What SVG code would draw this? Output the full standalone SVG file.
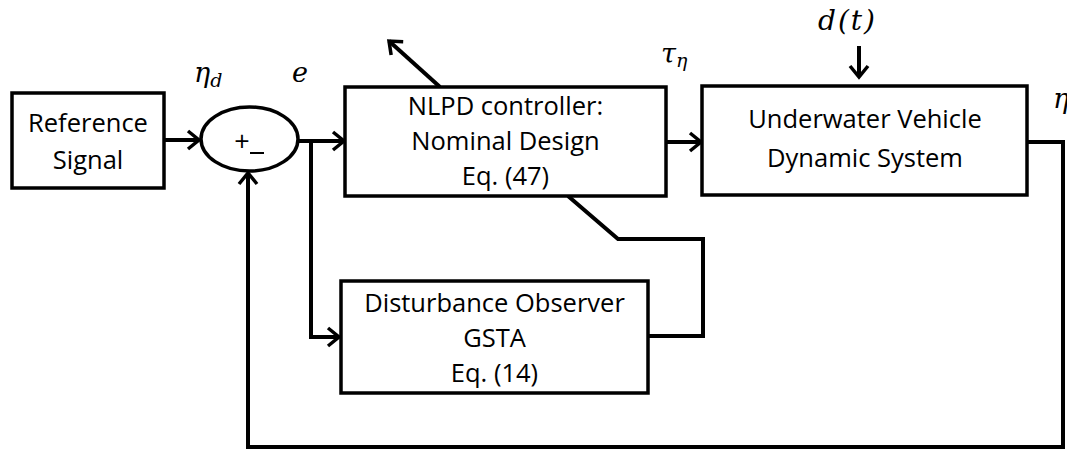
<svg xmlns="http://www.w3.org/2000/svg" width="1067" height="449" viewBox="0 0 1067 449">
<style>
.box{fill:#fff;stroke:#000;stroke-width:3.5}
.lbl{font-family:"Open Sans","Liberation Sans",sans-serif;font-size:25.5px;fill:#000;text-anchor:middle}
.math{font-family:"DejaVu Serif","Liberation Serif",serif;font-style:italic;fill:#000}
.wire{fill:none;stroke:#000;stroke-width:4;stroke-linejoin:miter}
</style>
<defs>
<marker id="arr" markerUnits="userSpaceOnUse" viewBox="0 0 16 22" markerWidth="16" markerHeight="22" refX="13" refY="11" orient="auto">
<path d="M2,2 L13,11 L2,20" fill="none" stroke="#000" stroke-width="3.5"/>
</marker>
</defs>
<rect width="1067" height="449" fill="#fff"/>
<g id="connectors">
<path class="wire" d="M164,140 L199,140" marker-end="url(#arr)"/>
<path class="wire" d="M298,141 L344,141" marker-end="url(#arr)"/>
<path class="wire" d="M311,141 L311,337 L339,337" marker-end="url(#arr)"/>
<path class="wire" d="M666,142 L701,142" marker-end="url(#arr)"/>
<path class="wire" d="M859,46 L859,77" stroke-width="3" marker-end="url(#arr)"/>
<path class="wire" d="M440,87 L389,41" marker-end="url(#arr)"/>
<path class="wire" d="M568,196 L618,239 L703,239 L703,336 L648,336"/>
<path class="wire" d="M1027,142 L1063,142 L1063,447 L248,447 L248,173" marker-end="url(#arr)"/>
</g>
<g id="reference">
<rect class="box" x="12" y="93" width="152" height="95"/>
<text class="lbl" x="88" y="132">Reference</text>
<text class="lbl" x="88" y="169">Signal</text>
</g>
<g id="sum">
<ellipse cx="249.5" cy="139" rx="48.5" ry="32" fill="#fff" stroke="#000" stroke-width="3.5"/>
<text x="242" y="151" font-family="Open Sans, sans-serif" font-size="27" text-anchor="middle">+</text>
<line x1="250" y1="153" x2="264" y2="153" stroke="#000" stroke-width="2"/>
</g>
<g id="nlpd">
<rect class="box" x="345" y="87" width="321" height="109"/>
<text class="lbl" x="505.5" y="115">NLPD controller:</text>
<text class="lbl" x="505.5" y="150">Nominal Design</text>
<text class="lbl" x="505.5" y="185">Eq. (47)</text>
</g>
<g id="vehicle">
<rect class="box" x="702" y="86" width="325" height="109"/>
<text class="lbl" x="865" y="128">Underwater Vehicle</text>
<text class="lbl" x="865" y="167">Dynamic System</text>
</g>
<g id="observer">
<rect class="box" x="341" y="281" width="307" height="112"/>
<text class="lbl" x="494.5" y="312">Disturbance Observer</text>
<text class="lbl" x="494.5" y="347">GSTA</text>
<text class="lbl" x="494.5" y="382">Eq. (14)</text>
</g>
<g id="labels">
<text class="math" x="194" y="82" font-size="27">η<tspan font-size="19" dy="5">d</tspan></text>
<text class="math" x="292" y="82" font-size="27">e</text>
<text class="math" x="661" y="63" font-size="27">τ<tspan font-size="19" dy="4">η</tspan></text>
<text class="math" x="818" y="30" font-size="28" letter-spacing="2">d(t)</text>
<text class="math" x="1053" y="108" font-size="27">η</text>
</g>
</svg>
